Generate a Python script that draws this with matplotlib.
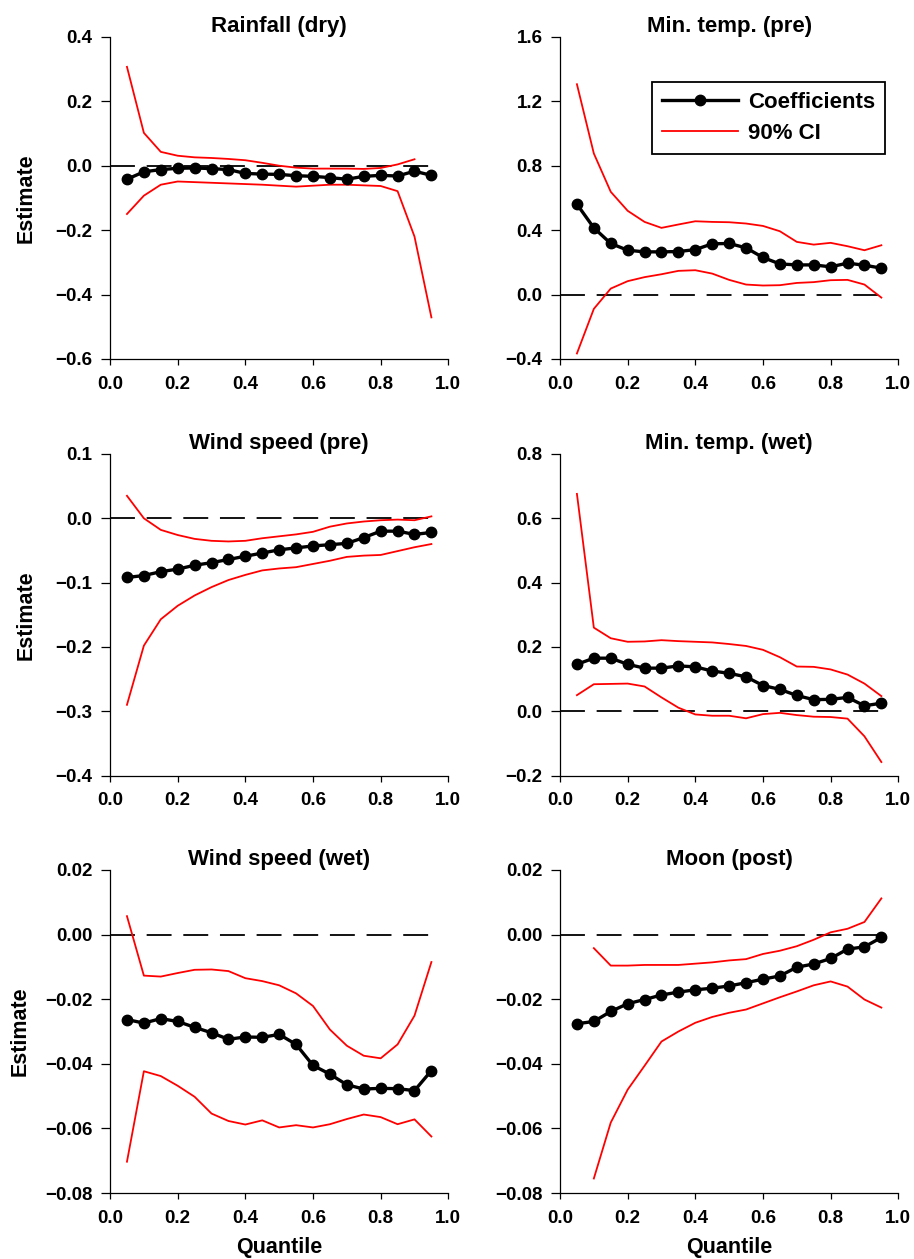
import numpy as np
import matplotlib
matplotlib.use("Agg")
import matplotlib.pyplot as plt

plt.rcParams['font.family'] = ['Liberation Sans', 'DejaVu Sans']
plt.rcParams['font.weight'] = 'bold'

# ========== DATA ==========
quantiles = [0.05, 0.10, 0.15, 0.20, 0.25, 0.30, 0.35, 0.40, 0.45, 0.50,
             0.55, 0.60, 0.65, 0.70, 0.75, 0.80, 0.85, 0.90, 0.95]

titles = ["Rainfall (dry)", "Min. temp. (pre)", "Wind speed (pre)",
          "Min. temp. (wet)", "Wind speed (wet)", "Moon (post)"]

nan = np.nan

rain_coef  = [-0.042, -0.019, -0.012, -0.008, -0.007, -0.009, -0.012, -0.024, -0.026, -0.027,
              -0.031, -0.033, -0.037, -0.042, -0.033, -0.030, -0.032, -0.017, -0.030]
rain_upper = [0.307, 0.102, 0.043, 0.031, 0.026, 0.024, 0.021, 0.017, 0.009, 0.000,
              -0.006, -0.009, -0.009, -0.009, -0.010, -0.007, 0.004, 0.020, nan]
rain_lower = [-0.150, -0.093, -0.059, -0.049, -0.051, -0.053, -0.055, -0.057, -0.059, -0.062,
              -0.065, -0.062, -0.059, -0.059, -0.061, -0.063, -0.079, -0.220, -0.471]

tmin_pre_coef  = [0.561, 0.414, 0.317, 0.275, 0.265, 0.265, 0.267, 0.279, 0.315, 0.317,
                  0.290, 0.230, 0.190, 0.184, 0.184, 0.172, 0.195, 0.182, 0.164]
tmin_pre_upper = [1.306, 0.876, 0.638, 0.520, 0.451, 0.414, 0.435, 0.455, 0.451, 0.449,
                  0.441, 0.426, 0.393, 0.327, 0.310, 0.321, 0.300, 0.275, 0.306]
tmin_pre_lower = [-0.366, -0.089, 0.037, 0.083, 0.108, 0.126, 0.147, 0.151, 0.130, 0.091,
                  0.062, 0.056, 0.058, 0.072, 0.077, 0.089, 0.091, 0.062, -0.019]

wind_pre_coef  = [-0.092, -0.089, -0.083, -0.079, -0.073, -0.069, -0.064, -0.059, -0.054, -0.049,
                  -0.046, -0.043, -0.041, -0.039, -0.030, -0.020, -0.020, -0.025, -0.022]
wind_pre_upper = [0.035, 0.000, -0.018, -0.026, -0.032, -0.035, -0.036, -0.035, -0.031, -0.028,
                  -0.025, -0.021, -0.013, -0.008, -0.005, -0.003, -0.002, -0.003, 0.003]
wind_pre_lower = [-0.290, -0.198, -0.157, -0.136, -0.120, -0.107, -0.096, -0.088, -0.081, -0.078,
                  -0.076, -0.071, -0.066, -0.060, -0.058, -0.057, -0.051, -0.045, -0.040]

tmin_wet_coef  = [0.146, 0.165, 0.165, 0.146, 0.134, 0.134, 0.141, 0.138, 0.125, 0.118,
                  0.107, 0.080, 0.068, 0.049, 0.036, 0.037, 0.043, 0.017, 0.025]
tmin_wet_upper = [0.676, 0.260, 0.227, 0.216, 0.217, 0.221, 0.218, 0.216, 0.214, 0.209,
                  0.203, 0.191, 0.168, 0.139, 0.138, 0.130, 0.114, 0.086, 0.047]
tmin_wet_lower = [0.050, 0.084, 0.085, 0.086, 0.077, 0.043, 0.011, -0.010, -0.014, -0.014,
                  -0.022, -0.009, -0.005, -0.012, -0.017, -0.018, -0.023, -0.078, -0.158]

wind_wet_coef  = [-0.0263, -0.0274, -0.0260, -0.0269, -0.0287, -0.0304, -0.0324, -0.0317, -0.0318, -0.0309,
                  -0.0340, -0.0405, -0.0432, -0.0465, -0.0478, -0.0476, -0.0477, -0.0483, -0.0421]
wind_wet_upper = [0.0057, -0.0127, -0.0130, -0.0119, -0.0109, -0.0108, -0.0113, -0.0135, -0.0144, -0.0157,
                  -0.0182, -0.0221, -0.0294, -0.0344, -0.0375, -0.0383, -0.0340, -0.0251, -0.0085]
wind_wet_lower = [-0.0703, -0.0423, -0.0438, -0.0468, -0.0502, -0.0554, -0.0577, -0.0588, -0.0575, -0.0597,
                  -0.0590, -0.0597, -0.0587, -0.0571, -0.0557, -0.0565, -0.0587, -0.0572, -0.0625]

moon_coef  = [-0.0276, -0.0269, -0.0238, -0.0214, -0.0201, -0.0187, -0.0178, -0.0171, -0.0166, -0.0159,
              -0.0149, -0.0138, -0.0128, -0.0101, -0.0091, -0.0074, -0.0045, -0.0038, -0.0009]
moon_upper = [nan, -0.0042, -0.0096, -0.0096, -0.0094, -0.0094, -0.0094, -0.0090, -0.0086, -0.0080,
              -0.0076, -0.0060, -0.0050, -0.0036, -0.0016, 0.0007, 0.0018, 0.0039, 0.0112]
moon_lower = [nan, -0.0755, -0.0582, -0.0480, -0.0406, -0.0331, -0.0300, -0.0273, -0.0255, -0.0242,
              -0.0232, -0.0213, -0.0194, -0.0176, -0.0157, -0.0145, -0.0161, -0.0201, -0.0226]

coefs  = [rain_coef, tmin_pre_coef, wind_pre_coef, tmin_wet_coef, wind_wet_coef, moon_coef]
uppers = [rain_upper, tmin_pre_upper, wind_pre_upper, tmin_wet_upper, wind_wet_upper, moon_upper]
lowers = [rain_lower, tmin_pre_lower, wind_pre_lower, tmin_wet_lower, wind_wet_lower, moon_lower]

y_ranges = [(-0.6, 0.4, 0.2), (-0.4, 1.6, 0.4), (-0.4, 0.1, 0.1),
            (-0.2, 0.8, 0.2), (-0.08, 0.02, 0.02), (-0.08, 0.02, 0.02)]
y_fmt = ["%.1f", "%.1f", "%.1f", "%.1f", "%.2f", "%.2f"]
# ==========================

fig = plt.figure(figsize=(9.14, 12.59), dpi=100)

col_left = [0.1204, 0.6127]
col_w = 0.3701
row_bot = [0.7149, 0.3840, 0.0524]
row_h = [0.2558, 0.2554, 0.2566]
ylab_x = [-0.216, -0.216, -0.234]

for i in range(6):
    r, c = i // 2, i % 2
    ax = fig.add_axes([col_left[c], row_bot[r], col_w, row_h[r]])

    ax.hlines(0, 0, 0.95, colors='black', linewidth=1.3, linestyles=(0, (13.8, 6.5)))
    ax.plot(quantiles, uppers[i], color='red', linewidth=1.3, label='90% CI')
    ax.plot(quantiles, lowers[i], color='red', linewidth=1.3)
    ax.plot(quantiles, coefs[i], color='black', linewidth=2.4, marker='o',
            markersize=7.5, label='Coefficients')

    lo, hi, step = y_ranges[i]
    ax.set_ylim(lo, hi)
    yt = np.arange(lo, hi + step / 2, step)
    ax.set_yticks(yt)
    ax.set_yticklabels([(y_fmt[i] % v).replace('-', '\u2212') if abs(v) > 1e-9 else y_fmt[i] % 0 for v in yt])
    ax.set_xlim(0, 1.0)
    ax.set_xticks(np.arange(0, 1.01, 0.2))
    ax.set_xticklabels(["%.1f" % v for v in np.arange(0, 1.01, 0.2)])

    ax.spines['top'].set_visible(False)
    ax.spines['right'].set_visible(False)
    ax.spines['left'].set_linewidth(0.9)
    ax.spines['bottom'].set_linewidth(0.9)
    ax.tick_params(axis='y', direction='out', length=6.5, width=0.9, pad=6, labelsize=13.5)
    ax.tick_params(axis='x', direction='out', length=4.5, width=0.9, pad=7.5, labelsize=13.5)

    ax.set_title(titles[i], fontsize=16, fontweight='bold', pad=3.5)

    if c == 0:
        ax.set_ylabel("Estimate", fontsize=15.5, fontweight='bold')
        ax.yaxis.set_label_coords(ylab_x[r], 0.5)
    if r == 2:
        ax.set_xlabel("Quantile", fontsize=15.5, fontweight='bold')
        ax.xaxis.set_label_coords(0.5, -0.137)

    if i == 1:
        h, l = ax.get_legend_handles_labels()
        leg = ax.legend(h[::-1], l[::-1], loc='upper right', bbox_to_anchor=(0.961, 0.860),
                        borderaxespad=0, fontsize=16, handlelength=3.4, handletextpad=0.45,
                        labelspacing=0.45, fancybox=False, framealpha=1, edgecolor='black',
                        borderpad=0.45)
        leg.get_frame().set_linewidth(1.3)

fig.savefig("out.png", dpi=100)
